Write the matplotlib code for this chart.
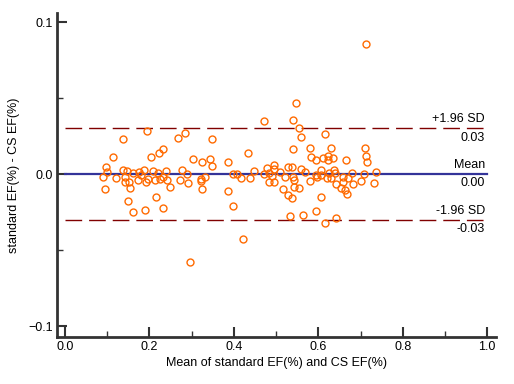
import numpy as np
import matplotlib
matplotlib.use("Agg")
import matplotlib.pyplot as plt
from matplotlib.ticker import MultipleLocator

plt.rcParams["font.family"] = ["Liberation Sans", "DejaVu Sans"]

# Bland-Altman points: mean of the two methods, and their difference
mean_vals = [
    0.194, 0.138, 0.113, 0.204, 0.223, 0.232, 0.097, 0.0995, 0.091, 0.121,
    0.138, 0.146, 0.141, 0.141, 0.152, 0.153, 0.095, 0.162, 0.176, 0.188,
    0.179, 0.172, 0.192, 0.197, 0.209, 0.219, 0.213, 0.225, 0.239, 0.233,
    0.241, 0.249, 0.148, 0.216, 0.162, 0.190, 0.231,
    0.268, 0.285, 0.348, 0.303, 0.325, 0.344, 0.347, 0.385, 0.277, 0.289,
    0.272, 0.291, 0.322, 0.323, 0.331, 0.325, 0.398, 0.408, 0.418, 0.385,
    0.399,
    0.547, 0.472, 0.541, 0.555, 0.558, 0.541, 0.581, 0.433, 0.583, 0.447,
    0.478, 0.496, 0.496, 0.528, 0.538, 0.558, 0.569, 0.439, 0.471, 0.490,
    0.484, 0.509, 0.520, 0.540, 0.543, 0.581, 0.483, 0.494, 0.516, 0.542,
    0.554, 0.528, 0.537, 0.532, 0.563, 0.421,
    0.615, 0.630, 0.710, 0.713, 0.715, 0.594, 0.612, 0.623, 0.623, 0.635,
    0.665, 0.607, 0.637, 0.639, 0.626, 0.607, 0.594, 0.596, 0.620, 0.631,
    0.659, 0.671, 0.679, 0.709, 0.736, 0.659, 0.643, 0.653, 0.683, 0.701,
    0.731, 0.663, 0.667, 0.606, 0.594, 0.641, 0.615,
    0.713, 0.296,
]
diff_vals = [
    0.0285, 0.0228, 0.0114, 0.0110, 0.0140, 0.0162, 0.0048, 0.0011, -0.0022, -0.0026,
    0.0026, 0.0020, -0.0018, -0.0053, -0.0051, -0.0092, -0.0101, 0.0005, 0.0011, 0.0026,
    -0.0007, -0.0039, -0.0053, -0.0035, 0.0022, 0.0005, -0.0039, -0.0035, 0.0022, -0.0022,
    -0.0039, -0.0084, -0.0180, -0.0153, -0.0252, -0.0237, -0.0226,
    0.0239, 0.0268, 0.0228, 0.0097, 0.0077, 0.0099, 0.0055, 0.0077, 0.0026, 0.0000,
    -0.0039, -0.0061, -0.0035, -0.0046, -0.0022, -0.0099, 0.0000, -0.0002, -0.0028, -0.0110,
    -0.0209,
    0.0465, 0.0351, 0.0355, 0.0301, 0.0245, 0.0166, 0.0173, 0.0136, 0.0112, 0.0020,
    0.0041, 0.0059, 0.0033, 0.0048, 0.0048, 0.0033, 0.0015, -0.0024, -0.0002, -0.0013,
    0.0009, 0.0011, -0.0020, -0.0018, -0.0039, -0.0046, -0.0055, -0.0055, -0.0099, -0.0088,
    -0.0094, -0.0138, -0.0160, -0.0274, -0.0270, -0.0428,
    0.0261, 0.0173, 0.0173, 0.0118, 0.0081, 0.0092, 0.0103, 0.0118, 0.0092, 0.0103,
    0.0092, 0.0026, 0.0026, 0.0005, 0.0009, -0.0007, -0.0007, -0.0018, -0.0028, -0.0028,
    -0.0018, -0.0024, 0.0005, -0.0002, 0.0011, -0.0055, -0.0068, -0.0090, -0.0068, -0.0046,
    -0.0061, -0.0105, -0.0134, -0.0153, -0.0243, -0.0288, -0.0320,
    0.0855, -0.0580,
]

bias = 0.00
upper_loa = 0.03
lower_loa = -0.03

fig = plt.figure(figsize=(5.14, 3.84), dpi=100)
ax = fig.add_axes([0.111, 0.122, 0.854, 0.844])

ax.plot(mean_vals, diff_vals, "o", mfc="none", mec="#ff6a00", ms=5, mew=1.0, zorder=3)

ax.plot([0, 1], [bias, bias], color="#333399", lw=1.6, zorder=2)
for lim in (upper_loa, lower_loa):
    ax.plot([0, 1], [lim, lim], color="#800000", lw=1.0, dashes=(12, 5), zorder=2)

# labels on the right end of the lines
ax.text(0.995, upper_loa + 0.002, "+1.96 SD", ha="right", va="bottom", fontsize=9)
ax.text(0.995, upper_loa - 0.002, "%.2f" % upper_loa, ha="right", va="top", fontsize=9)
ax.text(0.995, bias + 0.002, "Mean", ha="right", va="bottom", fontsize=9)
ax.text(0.995, bias - 0.002, "%.2f" % bias, ha="right", va="top", fontsize=9)
ax.text(0.995, lower_loa + 0.002, "-1.96 SD", ha="right", va="bottom", fontsize=9)
ax.text(0.995, lower_loa - 0.002, "%.2f" % lower_loa, ha="right", va="top", fontsize=9)

ax.set_xlim(-0.019, 1.021)
ax.set_ylim(-0.1072, 0.1059)
ax.set_xticks([0, 0.2, 0.4, 0.6, 0.8, 1.0])
ax.set_yticks([-0.1, 0.0, 0.1])
ax.xaxis.set_minor_locator(MultipleLocator(0.1))
ax.yaxis.set_minor_locator(MultipleLocator(0.05))
ax.tick_params(which="major", direction="in", length=7, width=1.5, color="#333333",
               labelsize=9, pad=3)
ax.tick_params(which="minor", direction="in", length=4, width=1, color="#333333")

for side in ("top", "right"):
    ax.spines[side].set_visible(False)
for side in ("left", "bottom"):
    ax.spines[side].set_color("#333333")
    ax.spines[side].set_linewidth(2)

ax.set_xlabel("Mean of standard EF(%) and CS EF(%)", fontsize=9, labelpad=3)
ax.set_ylabel("standard EF(%) - CS EF(%)", fontsize=9, labelpad=6)

fig.savefig("out.png", dpi=100)
